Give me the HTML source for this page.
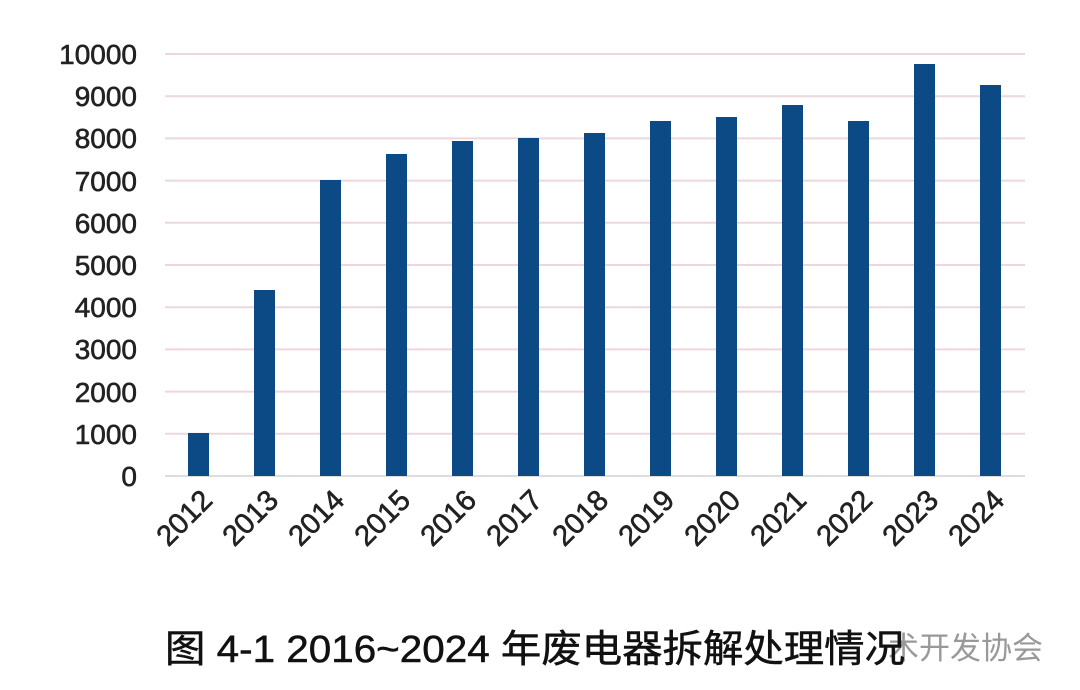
<!DOCTYPE html>
<html><head><meta charset="utf-8"><style>
body{margin:0;background:#fff;}
svg{display:block}
</style></head><body>
<svg width="1080" height="690" xmlns="http://www.w3.org/2000/svg">
<rect width="1080" height="690" fill="#fff"/>
<g stroke="#ecd8dc" stroke-width="2">
<line x1="165" x2="1025" y1="54" y2="54"/><line x1="165" x2="1025" y1="96.2" y2="96.2"/>
<line x1="165" x2="1025" y1="138.4" y2="138.4"/><line x1="165" x2="1025" y1="180.6" y2="180.6"/>
<line x1="165" x2="1025" y1="222.8" y2="222.8"/><line x1="165" x2="1025" y1="265" y2="265"/>
<line x1="165" x2="1025" y1="307.2" y2="307.2"/><line x1="165" x2="1025" y1="349.4" y2="349.4"/>
<line x1="165" x2="1025" y1="391.6" y2="391.6"/><line x1="165" x2="1025" y1="433.8" y2="433.8"/>
<line x1="165" x2="1025" y1="476" y2="476" stroke="#ddd"/>
</g>
<g font-family="Liberation Sans, sans-serif" font-size="28" fill="#222" stroke="#222" stroke-width="0.6" text-anchor="end">
<text x="137" y="64">10000</text><text x="137" y="106">9000</text><text x="137" y="148">8000</text>
<text x="137" y="191">7000</text><text x="137" y="233">6000</text><text x="137" y="275">5000</text>
<text x="137" y="317">4000</text><text x="137" y="359">3000</text><text x="137" y="402">2000</text>
<text x="137" y="444">1000</text><text x="137" y="486">0</text>
</g>
<g fill="#0c4a86">
<rect x="188" y="433" width="21" height="43"/>
<rect x="254" y="290" width="21" height="186"/>
<rect x="320" y="180" width="21" height="296"/>
<rect x="386" y="154" width="21" height="322"/>
<rect x="452" y="141" width="21" height="335"/>
<rect x="518" y="138" width="21" height="338"/>
<rect x="584" y="133" width="21" height="343"/>
<rect x="650" y="121" width="21" height="355"/>
<rect x="716" y="117" width="21" height="359"/>
<rect x="782" y="105" width="21" height="371"/>
<rect x="848" y="121" width="21" height="355"/>
<rect x="914" y="64" width="21" height="412"/>
<rect x="980" y="85" width="21" height="391"/>
</g>
<g font-family="Liberation Sans, sans-serif" font-size="29" fill="#222" stroke="#222" stroke-width="0.6" text-anchor="end">
<text transform="translate(214,502) rotate(-45)">2012</text>
<text transform="translate(280,502) rotate(-45)">2013</text>
<text transform="translate(346,502) rotate(-45)">2014</text>
<text transform="translate(412,502) rotate(-45)">2015</text>
<text transform="translate(478,502) rotate(-45)">2016</text>
<text transform="translate(544,502) rotate(-45)">2017</text>
<text transform="translate(610,502) rotate(-45)">2018</text>
<text transform="translate(676,502) rotate(-45)">2019</text>
<text transform="translate(742,502) rotate(-45)">2020</text>
<text transform="translate(808,502) rotate(-45)">2021</text>
<text transform="translate(874,502) rotate(-45)">2022</text>
<text transform="translate(940,502) rotate(-45)">2023</text>
<text transform="translate(1006,502) rotate(-45)">2024</text>
</g>
<text x="888" y="659" font-family="Liberation Sans, Noto Sans CJK SC, sans-serif" font-size="31" fill="#999">术开发协会</text>
<text x="165" y="662" font-family="Liberation Sans, Noto Sans CJK SC, sans-serif" font-size="38" fill="#111" stroke="#111" stroke-width="0.5" textLength="740" lengthAdjust="spacingAndGlyphs">图 4-1  2016~2024 年废电器拆解处理情况</text>
</svg>
</body></html>
